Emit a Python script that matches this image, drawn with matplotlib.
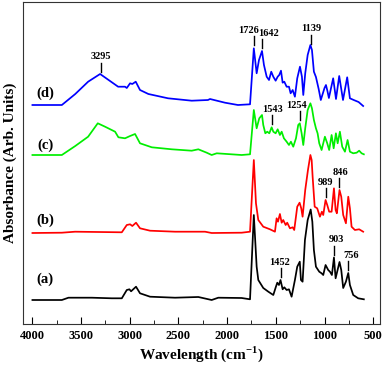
import numpy as np
import matplotlib
matplotlib.use('Agg')
import matplotlib.pyplot as plt

plt.rcParams['font.family'] = ['Liberation Serif', 'DejaVu Serif']
plt.rcParams['font.weight'] = 'bold'
plt.rcParams['mathtext.fontset'] = 'custom'
plt.rcParams['mathtext.rm'] = 'Liberation Serif:bold'
plt.rcParams['mathtext.bf'] = 'Liberation Serif:bold'

# spectra (wavenumber, absorbance in arb. units above own baseline)
wn_a = [4000, 3698, 3630, 3390, 3185, 3082, 3031, 3004, 2987, 2936, 2895, 2792, 2535, 2296,
        2159, 2091, 1851, 1765, 1726, 1697, 1680, 1629, 1577, 1526, 1499, 1485, 1468, 1452,
        1430, 1413, 1389, 1365, 1338, 1304, 1280, 1254, 1242, 1225, 1201, 1173, 1142, 1125,
        1109, 1088, 1054, 1030, 1013, 989, 962, 944, 924, 903, 886, 846, 828, 808, 780, 756,
        739, 705, 654, 596]
abs_a = [0, 0, 2.3, 2.3, 1.7, 1.7, 10, 10.7, 8.7, 13.3, 6.7, 3.3, 2.3, 3,
         0, 2.3, 2, 0.7, 85, 33.3, 20, 12, 8.3, 5, 13.3, 17.3, 15, 20,
         10.7, 12.7, 10, 10.7, 3.3, 20, 33.3, 38.3, 20, 18.3, 60, 80, 90.5, 78.3,
         50, 33.3, 28.3, 26.7, 25, 35, 30, 28.3, 25, 42.5, 21.7, 38, 30, 12, 18.3, 27,
         15, 5, 1.7, 0.7]

wn_b = [4000, 3698, 3562, 3082, 3031, 2997, 2974, 2936, 2895, 2792, 2535, 2227, 2159, 1851,
        1765, 1726, 1704, 1680, 1629, 1560, 1509, 1492, 1478, 1458, 1440, 1424, 1399, 1383,
        1355, 1327, 1311, 1280, 1256, 1239, 1225, 1198, 1170, 1145, 1132, 1122, 1101, 1075,
        1047, 1027, 1013, 989, 972, 952, 927, 903, 886, 873, 846, 828, 808, 780, 756, 739,
        722, 688, 644, 603]
abs_b = [0, 0.3, 1.3, 0.7, 8, 8.7, 7, 10.3, 4.7, 2.3, 1.3, 1.3, 0, 0.3,
         1.3, 73, 29.7, 13, 6.3, 3.7, 1.3, 14.7, 11.3, 19, 10.3, 13, 8, 10.3,
         4.7, 5.7, 3, 26.3, 30.3, 24.7, 16.3, 43, 63, 78, 73, 56.3, 26.3, 24.7,
         16.3, 21.3, 18, 33, 28, 21.3, 21.3, 44.7, 23, 19.7, 43, 36.3, 18, 9.7, 36.3, 24.7,
         6.3, 3, 3.7, 1.3]

wn_c = [4000, 3698, 3560, 3428, 3329, 3254, 3151, 3117, 3049, 2997, 2946, 2895, 2774, 2569, 2364,
        2296, 2210, 2159, 2107, 1851, 1765, 1726, 1697, 1670, 1642, 1629, 1608, 1588, 1567,
        1543, 1526, 1502, 1481, 1458, 1440, 1417, 1389, 1365, 1345, 1321, 1293, 1270, 1254,
        1235, 1218, 1198, 1173, 1145, 1129, 1109, 1088, 1071, 1054, 1030, 996, 972, 952,
        927, 906, 883, 865, 842, 818, 790, 763, 739, 705, 670, 644, 619, 596]
abs_c = [0, 0, 9, 18.3, 31.7, 28.3, 23.3, 17.7, 16.7, 19, 21, 11.7, 7.7, 5.7, 4.3,
         5.7, 2.3, 0, 1.7, 0, 0.7, 45, 26.7, 36.7, 40, 30, 21.7, 23.3, 21.7,
         27.7, 23.3, 21.7, 25.7, 20, 23.3, 16.7, 13.3, 10, 13.3, 8.3, 16.7, 30, 31.7,
         21.7, 10, 26.7, 45, 51.7, 46.7, 35, 26.7, 21.7, 11.7, 5, 18.3, 11.7, 5,
         20, 6.7, 21.7, 11.7, 23.3, 8.3, 3.3, 15, 3.3, 1.7, 2.3, 4.3, 1.7, 0.7]

wn_d = [4000, 3698, 3560, 3428, 3305, 3120, 3049, 3031, 2997, 2974, 2939, 2895, 2809, 2607, 2364,
        2197, 2176, 2022, 1889, 1765, 1726, 1697, 1673, 1642, 1622, 1594, 1570, 1547, 1526,
        1502, 1481, 1465, 1447, 1430, 1413, 1389, 1365, 1348, 1327, 1304, 1280, 1252, 1232,
        1218, 1198, 1173, 1145, 1129, 1109, 1088, 1060, 1038, 1000, 985, 970, 955, 911,
        882, 849, 810, 767, 739, 700, 650, 603]
abs_d = [0, 0, 11, 23.3, 31, 18.3, 18.3, 17, 21.7, 21, 23.3, 15, 11, 6.7, 4.3,
         5, 6, 2.3, 0, 0.7, 56.7, 31.7, 45, 54, 40, 28.3, 25, 33.3, 28.3,
         24.3, 28.3, 30, 34.3, 22.3, 23.3, 18.3, 18.3, 11.7, 15, 8.3, 26.7, 38.3, 28.3,
         10, 31.7, 50, 60, 55, 33.3, 28, 16, 5, 17, 20, 14, 7, 26.7,
         6, 29, 5, 27.7, 6.7, 5, 3, -1]

spectra = [(wn_a, abs_a, 'black', '(a)'), (wn_b, abs_b, 'red', '(b)'),
           (wn_c, abs_c, '#00ee00', '(c)'), (wn_d, abs_d, 'blue', '(d)')]
offsets = [24, 91, 169, 219]

# peak marks: (spectrum index, wavenumber, label, text shift in points)
peaks = [(3, 3295, '3295', 0), (3, 1726, '1726', -4), (3, 1642, '1642', 5), (3, 1139, '1139', 0),
         (2, 1543, '1543', 1), (2, 1254, '1254', -2),
         (1, 989, '989', 0), (1, 846, '846', 1),
         (0, 1452, '1452', -1), (0, 903, '903', 2), (0, 756, '756', 2)]

fig = plt.figure(figsize=(3.84, 3.68), dpi=100)
ax = fig.add_axes([22.7 / 384, 44 / 368, (380 - 22.7) / 384, 322 / 368])

for (wn, ab, col, name), off in zip(spectra, offsets):
    ax.plot(wn, np.array(ab) + off, color=col, lw=1.25)

lab_h = [21, 13, 10, 12]
for (wn, ab, col, name), off, h in zip(spectra, offsets, lab_h):
    ax.text(3870, off + h, name, fontsize=10.5, fontweight='bold', ha='center', va='center')

for i, w, lab, dx in peaks:
    wn, ab = spectra[i][0], spectra[i][1]
    yv = np.interp(-w, -np.array(wn), np.array(ab)) + offsets[i]
    ax.plot([w, w], [yv + 3, yv + 12], color='black', lw=1.0)
    ax.annotate(lab, (w, yv + 12), xytext=(dx, 1), textcoords='offset points',
                ha='center', va='bottom', fontsize=7.5, fontweight='bold')

ax.set_xlim(4100, 430)
ax.set_ylim(0, 322)
ax.set_yticks([])
ax.set_xticks(np.arange(4000, 499, -500))
ax.set_xticks(np.arange(3750, 500, -500), minor=True)
ax.tick_params(axis='x', which='both', direction='in', labelsize=9, pad=4)
ax.tick_params(axis='x', which='major', length=5)
ax.tick_params(axis='x', which='minor', length=3)
for lbl in ax.get_xticklabels():
    lbl.set_fontweight('bold')
ax.set_xlabel(r'Wavelength (cm$^{-1}$)', fontsize=11, fontweight='bold', labelpad=2)
ax.set_ylabel('Absorbance (Arb. Units)', fontsize=11, fontweight='bold', labelpad=4)
for s in ax.spines.values():
    s.set_color('#333333')

fig.savefig('out.png', dpi=100)
